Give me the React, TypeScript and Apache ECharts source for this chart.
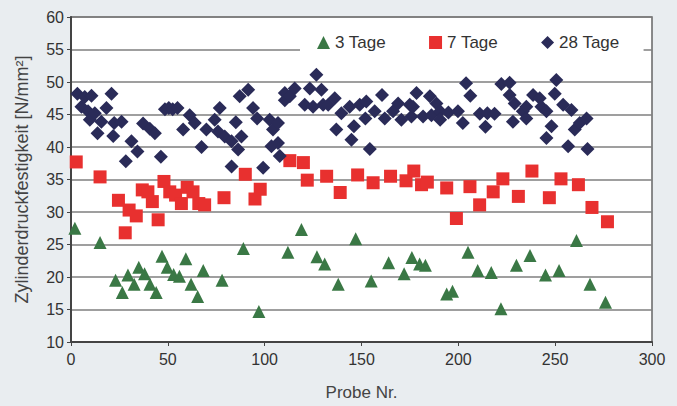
import React, { useEffect, useRef } from "react";
import * as echarts from "echarts";

const seriesNames = ["3 Tage", "7 Tage", "28 Tage"];
const xTicks = [0, 50, 100, 150, 200, 250, 300];
const yTicks = [10, 15, 20, 25, 30, 35, 40, 45, 50, 55, 60];

const threeDay: [number, number][] = [
  [2, 27.5], [15, 25.3], [23, 19.5], [26.5, 17.6], [29.4, 20.3], [32.6, 18.9], [35, 21.5], [38, 20.5],
  [40.8, 18.9], [44, 17.6], [47, 23.2], [49.7, 21.5], [53, 20.4], [56, 20.1], [59.3, 22.8], [62, 18.9],
  [65.4, 17], [68.3, 21], [78, 19.5], [89, 24.4], [97, 14.7], [112, 23.8], [119, 27.3], [127, 23.1],
  [131, 22], [138, 18.9], [147, 25.9], [155, 19.4], [164, 22.2], [172, 20.5], [176, 23], [180, 22],
  [183, 21.8], [194, 17.4], [197, 17.8], [205, 23.8], [210, 21], [217, 20.7], [222, 15.1], [230, 21.8],
  [237, 23.3], [245, 20.3], [252, 21], [261, 25.6], [268, 18.9], [276, 16.1],
];

const sevenDay: [number, number][] = [
  [2.7, 37.7], [15, 35.4], [24.5, 31.8], [28, 26.8], [30, 30.3], [33.7, 29.4], [36.8, 33.4], [39.7, 33.1],
  [42, 31.6], [45, 28.8], [48, 34.7], [51, 33.1], [54, 32.6], [57, 31.3], [60, 33.8], [63, 33.1],
  [66, 31.3], [69, 31.1], [79, 32.2], [90, 35.8], [95, 32], [97.7, 33.5], [113, 37.9], [120, 37.6],
  [122, 34.9], [132, 35.5], [139, 33], [148, 35.7], [156, 34.5], [165, 35.5], [173, 34.8], [177, 36.3],
  [181, 34.2], [184, 34.6], [194, 33.7], [199, 29], [206, 33.9], [211, 31.1], [218, 33.1], [223, 35.1],
  [231, 32.4], [238, 36.3], [247, 32.2], [253, 35.1], [262, 34.2], [269, 30.7], [277, 28.5],
];

const twentyEightDay: [number, number][] = [
  [3.3, 48.2], [5.4, 46.2], [7.1, 47.7], [8.8, 45.5], [9.7, 44.2], [10.6, 47.9], [12.3, 45.2], [13.7, 42.1],
  [15.7, 43.9], [18.3, 46.0], [20.9, 48.2], [21.8, 41.7], [22.3, 43.7], [26.1, 43.9], [28.3, 37.8], [31.2, 40.9],
  [34.3, 39.3], [37.2, 43.6], [40.7, 42.8], [43.3, 42.1], [46.4, 38.5], [48.5, 45.8], [50.5, 46], [52.5, 45.8],
  [55, 46], [57.9, 42.7], [61.3, 44.9], [63.9, 43.7], [67.4, 40.0], [69.9, 42.7], [74.2, 44.2], [75.9, 42.4],
  [76.8, 46.0], [79.4, 41.6], [82.9, 37.0], [82.9, 40.9], [85.1, 43.8], [86.3, 39.6], [87.1, 47.8], [88.0, 41.6],
  [91.5, 48.8], [94.0, 46.0], [96.1, 44.4], [99.2, 36.8], [102.6, 44.2], [103.5, 40.1], [104.3, 42.7], [106.9, 43.7],
  [106.9, 40.6], [107.8, 38.6], [110.4, 48.3], [110.4, 47.2], [113, 47.8], [115.5, 49.0], [120.7, 46.5], [123.3, 49.0],
  [125.0, 46.2], [126.7, 51.1], [129.3, 48.8], [130.2, 46.5], [132.8, 46.5], [136.2, 47.5], [137.0, 42.7], [139.6, 45.2],
  [143.9, 46.2], [144.8, 41.1], [146.1, 43.2], [149.1, 46.5], [152.0, 44.4], [152.5, 47.0], [154.3, 39.7], [156.8, 45.5],
  [160.6, 48.0], [162.0, 44.4], [166.3, 45.5], [168.9, 46.7], [170.6, 44.2], [174.9, 46.5], [175.8, 44.7], [176.6, 46.2],
  [178.4, 48.3], [181.8, 44.7], [185.3, 47.8], [186.1, 44.9], [188.7, 46.7], [190.6, 45.5], [190.6, 44.2], [194.9, 45.3],
  [199.8, 45.5], [202.3, 43.7], [204.0, 49.8], [206.2, 47.9], [211.1, 45.1], [214.0, 43.1], [215.0, 45.2], [218.7, 45.1],
  [222.2, 49.7], [226.5, 49.9], [226.5, 48.0], [228.2, 43.9], [229.1, 46.7], [233.3, 45.5], [235.1, 46.2], [235.1, 44.4],
  [238.6, 48.0], [242.0, 47.5], [242.9, 46.2], [245.5, 41.4], [245.5, 45.5], [248.1, 43.2], [249.8, 48.2], [250.6, 50.3],
  [254.1, 46.5], [256.7, 40.1], [258.4, 45.7], [260.1, 42.7], [262.7, 43.7], [266.2, 44.4], [266.7, 39.7],
];

const FONT = "'Liberation Sans', Arial, sans-serif";

export default function App() {
  const ref = useRef<HTMLDivElement>(null);
  useEffect(() => {
    document.body.style.margin = "0";
    if (!ref.current) return;
    const chart = echarts.init(ref.current, undefined, { renderer: "svg" });
    chart.setOption({
      animation: false,
      backgroundColor: "#e9edf0",
      textStyle: { fontFamily: FONT },
      grid: {
        left: 71,
        right: 25,
        top: 17,
        bottom: 63,
        show: true,
        backgroundColor: "#ffffff",
        borderColor: "#666",
        borderWidth: 1.5,
      },
      legend: {
        data: [
          { name: seriesNames[0], icon: "triangle", itemStyle: { color: "#3a7845" } },
          { name: seriesNames[1], icon: "rect", itemStyle: { color: "#e8302f" } },
          { name: seriesNames[2], icon: "diamond", itemStyle: { color: "#2a2b58" } },
        ],
        left: 300,
        top: 25,
        padding: [9, 24, 9, 17],
        itemWidth: 13,
        itemHeight: 13,
        itemGap: 43,
        backgroundColor: "#ffffff",
        textStyle: { fontSize: 17, color: "#333", fontFamily: FONT },
      },
      xAxis: {
        type: "value",
        min: xTicks[0],
        max: xTicks[xTicks.length - 1],
        interval: 50,
        name: "Probe Nr.",
        nameLocation: "middle",
        nameGap: 42,
        nameTextStyle: { fontSize: 17, color: "#444" },
        axisLine: { lineStyle: { color: "#444", width: 2 } },
        axisTick: { show: true, inside: false, length: 4, lineStyle: { color: "#444" } },
        axisLabel: { fontSize: 16, color: "#333", margin: 9 },
        splitLine: { show: false },
      },
      yAxis: {
        type: "value",
        min: yTicks[0],
        max: yTicks[yTicks.length - 1],
        interval: 5,
        name: "Zylinderdruckfestigkeit [N/mm²]",
        nameLocation: "middle",
        nameGap: 40,
        nameTextStyle: { fontSize: 18, color: "#444" },
        axisLine: { show: true, lineStyle: { color: "#444", width: 2 } },
        axisTick: { show: true, inside: false, length: 4, lineStyle: { color: "#444" } },
        axisLabel: { fontSize: 16, color: "#333", margin: 7 },
        splitLine: { show: true, lineStyle: { color: "#7f7f7f", width: 1.5 } },
      },
      series: [
        {
          name: seriesNames[0],
          type: "scatter",
          symbol: "triangle",
          symbolSize: [13, 13],
          itemStyle: { color: "#3a7845", opacity: 1 },
          data: threeDay,
          z: 3,
        },
        {
          name: seriesNames[1],
          type: "scatter",
          symbol: "rect",
          symbolSize: 13,
          itemStyle: { color: "#e8302f", opacity: 1 },
          data: sevenDay,
          z: 3,
        },
        {
          name: seriesNames[2],
          type: "scatter",
          symbol: "diamond",
          symbolSize: 14,
          itemStyle: { color: "#2a2b58", opacity: 1 },
          data: twentyEightDay,
          z: 3,
        },
      ],
    });
    return () => chart.dispose();
  }, []);
  return <div ref={ref} style={{ width: 677, height: 406 }} />;
}
